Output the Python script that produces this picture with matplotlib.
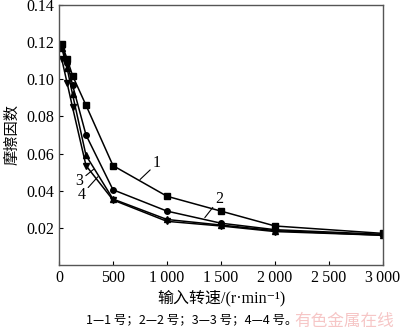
import matplotlib
matplotlib.use('Agg')
import matplotlib.pyplot as plt
import numpy as np

plt.rcParams['font.family'] = ['Liberation Serif', 'Noto Sans CJK SC', 'DejaVu Sans']

# 输入转速 (r/min)
speed = [25, 75, 125, 250, 500, 1000, 1500, 2000, 3000]
# 摩擦因数 for samples 1-4
mu1 = [0.119, 0.111, 0.102, 0.086, 0.0535, 0.037, 0.029, 0.021, 0.017]
mu2 = [0.118, 0.109, 0.097, 0.070, 0.0405, 0.029, 0.0225, 0.019, 0.0165]
mu3 = [0.117, 0.106, 0.092, 0.059, 0.0355, 0.0245, 0.0215, 0.0185, 0.016]
mu4 = [0.111, 0.098, 0.085, 0.0535, 0.035, 0.0235, 0.021, 0.018, 0.016]

xticks = [0, 500, 1000, 1500, 2000, 2500, 3000]
xticklabels = ['0', '500', '1\u2009000', '1\u2009500', '2\u2009000', '2\u2009500', '3\u2009000']
yticks = [0.02, 0.04, 0.06, 0.08, 0.10, 0.12, 0.14]

fig = plt.figure(figsize=(4, 3.3), dpi=100)
ax = fig.add_axes([0.1475, 0.197, 0.81, 0.788])

ax.plot(speed, mu1, 'k-', marker='s', ms=4, lw=1.1)
ax.plot(speed, mu2, 'k-', marker='o', ms=4, lw=1.1)
ax.plot(speed, mu3, 'k-', marker='^', ms=4, lw=1.1)
ax.plot(speed, mu4, 'k-', marker='v', ms=4, lw=1.1)

ax.set_xlim(0, 3000)
ax.set_ylim(0, 0.14)
ax.set_xticks(xticks)
ax.set_xticklabels(xticklabels)
ax.set_yticks(yticks)
ax.set_yticklabels(['%.2f' % v for v in yticks])
ax.tick_params(direction='in', length=3, labelsize=11.5, colors='black')
ax.tick_params(axis='x', top=False)
for s in ax.spines.values():
    s.set_color('#555555')
    s.set_linewidth(1.0)

# curve labels with leader lines
ax.annotate('1', xy=(750, 0.046), xytext=(870, 0.0525), fontsize=11.5,
            arrowprops=dict(arrowstyle='-', color='black', lw=0.8, shrinkA=0, shrinkB=0))
ax.annotate('2', xy=(1350, 0.0255), xytext=(1450, 0.0335), fontsize=11.5,
            arrowprops=dict(arrowstyle='-', color='black', lw=0.8, shrinkA=0, shrinkB=0))
ax.annotate('3', xy=(320, 0.0515), xytext=(150, 0.043), fontsize=11.5,
            arrowprops=dict(arrowstyle='-', color='black', lw=0.8, shrinkA=0, shrinkB=0))
ax.annotate('4', xy=(360, 0.0475), xytext=(170, 0.0355), fontsize=11.5,
            arrowprops=dict(arrowstyle='-', color='black', lw=0.8, shrinkA=0, shrinkB=0))

ax.set_ylabel('摩擦因数', fontsize=11, family=['Noto Sans CJK SC'], labelpad=4)
ax.set_xlabel('输入转速/(r·min\u207b\u00b9)', fontsize=11.5,
              family=['Liberation Serif', 'Noto Sans CJK SC', 'DejaVu Sans'], labelpad=3)

fig.text(0.48, 0.03, '1—1 号；2—2 号；3—3 号；4—4 号。', fontsize=9,
         family=['Noto Sans CJK SC'], ha='center', va='center')
fig.text(0.86, 0.025, '有色金属在线', fontsize=12, color='#f4b8b8',
         family=['Noto Sans CJK SC'], ha='center', va='center', alpha=0.8)

fig.savefig('out.png', dpi=100)
